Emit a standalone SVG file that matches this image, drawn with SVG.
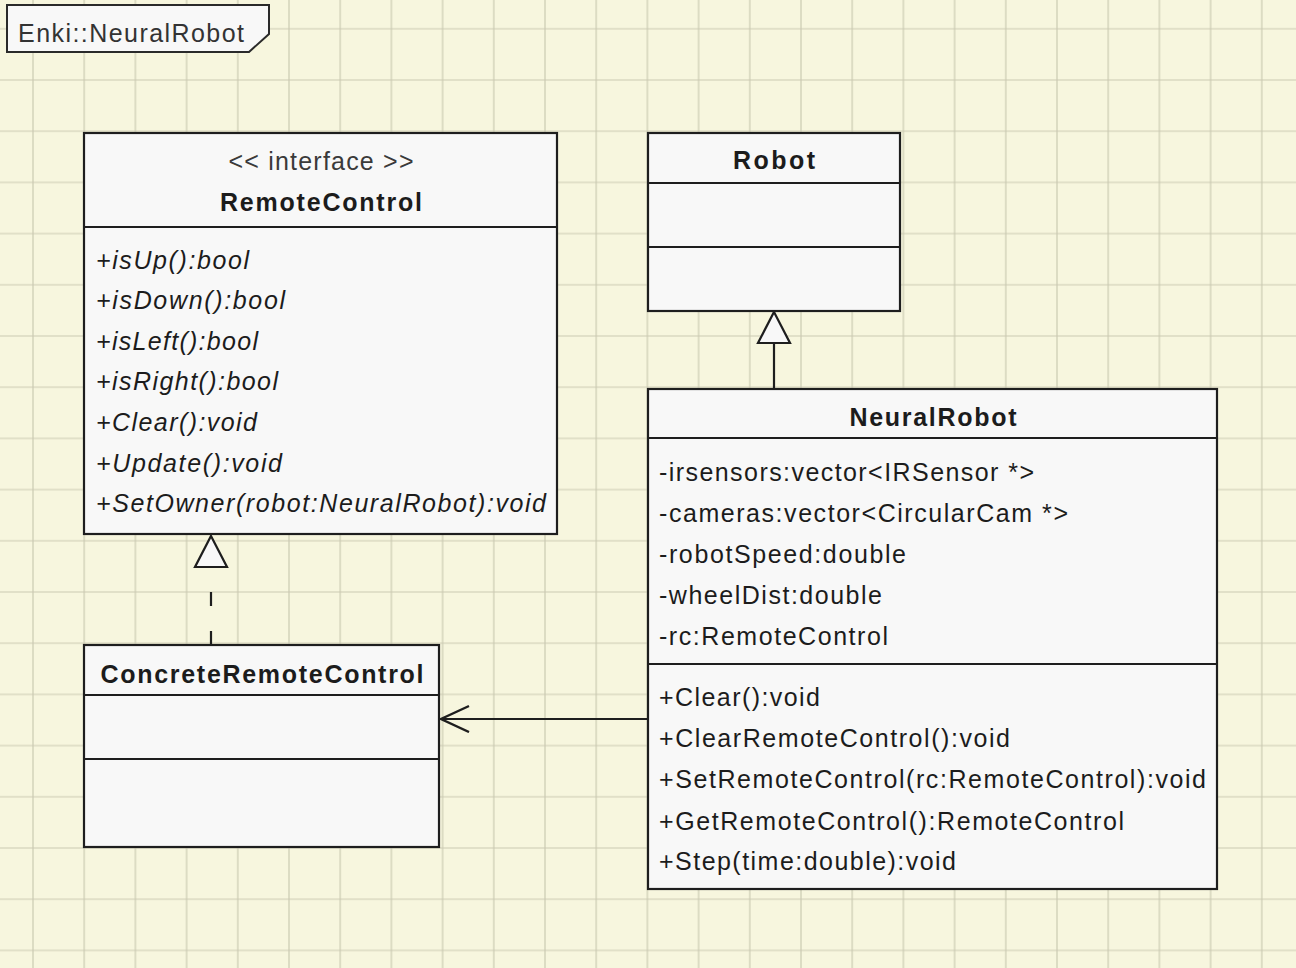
<svg xmlns="http://www.w3.org/2000/svg" width="1296" height="968" viewBox="0 0 1296 968">
  <defs>
    <pattern id="grid" patternUnits="userSpaceOnUse" x="7.4" y="3.2" width="51.2" height="51.2">
      <path d="M25.6 0V51.2M0 25.6H51.2" stroke="#cbcab2" stroke-width="1.2" fill="none"/>
    </pattern>
    <!-- open arrowhead: tip at the line end, wings trailing back along the line -->
    <marker id="open" markerUnits="userSpaceOnUse" markerWidth="34" markerHeight="30" refX="30" refY="14" orient="auto">
      <path d="M2 1L30 14L2 27" fill="none" stroke="#1e1e1e" stroke-width="2.4"/>
    </marker>
  </defs>
  <style>
    .box{fill:#f8f8f8;stroke:#1e1e1e;stroke-width:2.2}
    .sep{stroke:#1e1e1e;stroke-width:2.2}
    .t{font-family:"Liberation Sans",Arial,sans-serif;font-size:25px;fill:#1c1c1c}
    .b{font-weight:bold;text-anchor:middle}
    .i{font-style:italic}
    .st{fill:#3a3a3a;text-anchor:middle}
    .ln{stroke:#1e1e1e;stroke-width:2.2;fill:none}
    .tri{fill:#f8f8f8;stroke:#1e1e1e;stroke-width:2.2}
  </style>

  <!-- background and grid -->
  <rect width="1296" height="968" fill="#f7f6de"/>
  <rect width="1296" height="968" fill="url(#grid)"/>

  <!-- package frame tab -->
  <g id="frame">
    <path d="M7 5H269V34L249 52H7Z" fill="#f8f8f8" stroke="#2a2a2a" stroke-width="2"/>
    <text class="t" x="18" y="42" textLength="226" lengthAdjust="spacing" style="fill:#333">Enki::NeuralRobot</text>
  </g>

  <!-- connectors -->
  <g id="connectors">
    <!-- NeuralRobot generalizes Robot -->
    <line class="ln" x1="774" y1="389" x2="774" y2="343"/>
    <path class="tri" d="M774 312L790 343H758Z"/>
    <!-- ConcreteRemoteControl realizes RemoteControl -->
    <line class="ln" x1="211" y1="645" x2="211" y2="568" stroke-dasharray="14 25"/>
    <path class="tri" d="M211 536L227 567H195Z"/>
    <!-- NeuralRobot uses ConcreteRemoteControl -->
    <line class="ln" x1="648" y1="719" x2="441" y2="719" marker-end="url(#open)"/>
  </g>

  <!-- interface RemoteControl -->
  <g id="RemoteControl">
    <rect class="box" x="84" y="133" width="473" height="401"/>
    <line class="sep" x1="84" y1="227" x2="557" y2="227"/>
    <text class="t st" x="321" y="170" textLength="185" lengthAdjust="spacing">&lt;&lt; interface &gt;&gt;</text>
    <text class="t b" x="321" y="211" textLength="202" lengthAdjust="spacing">RemoteControl</text>
    <text class="t i" x="96" y="269" textLength="153" lengthAdjust="spacing">+isUp():bool</text>
    <text class="t i" x="96" y="309" textLength="189" lengthAdjust="spacing">+isDown():bool</text>
    <text class="t i" x="96" y="350" textLength="162" lengthAdjust="spacing">+isLeft():bool</text>
    <text class="t i" x="96" y="390" textLength="182" lengthAdjust="spacing">+isRight():bool</text>
    <text class="t i" x="96" y="431" textLength="161" lengthAdjust="spacing">+Clear():void</text>
    <text class="t i" x="96" y="472" textLength="186" lengthAdjust="spacing">+Update():void</text>
    <text class="t i" x="96" y="512" textLength="450" lengthAdjust="spacing">+SetOwner(robot:NeuralRobot):void</text>
  </g>

  <!-- class Robot -->
  <g id="Robot">
    <rect class="box" x="648" y="133" width="252" height="178"/>
    <line class="sep" x1="648" y1="183" x2="900" y2="183"/>
    <line class="sep" x1="648" y1="247" x2="900" y2="247"/>
    <text class="t b" x="774" y="169" textLength="82" lengthAdjust="spacing">Robot</text>
  </g>

  <!-- class NeuralRobot -->
  <g id="NeuralRobot">
    <rect class="box" x="648" y="389" width="569" height="500"/>
    <line class="sep" x1="648" y1="438" x2="1217" y2="438"/>
    <line class="sep" x1="648" y1="664" x2="1217" y2="664"/>
    <text class="t b" x="933" y="426" textLength="167" lengthAdjust="spacing">NeuralRobot</text>
    <text class="t" x="659" y="481" textLength="375" lengthAdjust="spacing">-irsensors:vector&lt;IRSensor *&gt;</text>
    <text class="t" x="659" y="522" textLength="409" lengthAdjust="spacing">-cameras:vector&lt;CircularCam *&gt;</text>
    <text class="t" x="659" y="563" textLength="247" lengthAdjust="spacing">-robotSpeed:double</text>
    <text class="t" x="659" y="604" textLength="223" lengthAdjust="spacing">-wheelDist:double</text>
    <text class="t" x="659" y="645" textLength="229" lengthAdjust="spacing">-rc:RemoteControl</text>
    <text class="t" x="659" y="706" textLength="161" lengthAdjust="spacing">+Clear():void</text>
    <text class="t" x="659" y="747" textLength="351" lengthAdjust="spacing">+ClearRemoteControl():void</text>
    <text class="t" x="659" y="788" textLength="547" lengthAdjust="spacing">+SetRemoteControl(rc:RemoteControl):void</text>
    <text class="t" x="659" y="830" textLength="465" lengthAdjust="spacing">+GetRemoteControl():RemoteControl</text>
    <text class="t" x="659" y="870" textLength="297" lengthAdjust="spacing">+Step(time:double):void</text>
  </g>

  <!-- class ConcreteRemoteControl -->
  <g id="ConcreteRemoteControl">
    <rect class="box" x="84" y="645" width="355" height="202"/>
    <line class="sep" x1="84" y1="695" x2="439" y2="695"/>
    <line class="sep" x1="84" y1="759" x2="439" y2="759"/>
    <text class="t b" x="262" y="683" textLength="323" lengthAdjust="spacing">ConcreteRemoteControl</text>
  </g>
</svg>
